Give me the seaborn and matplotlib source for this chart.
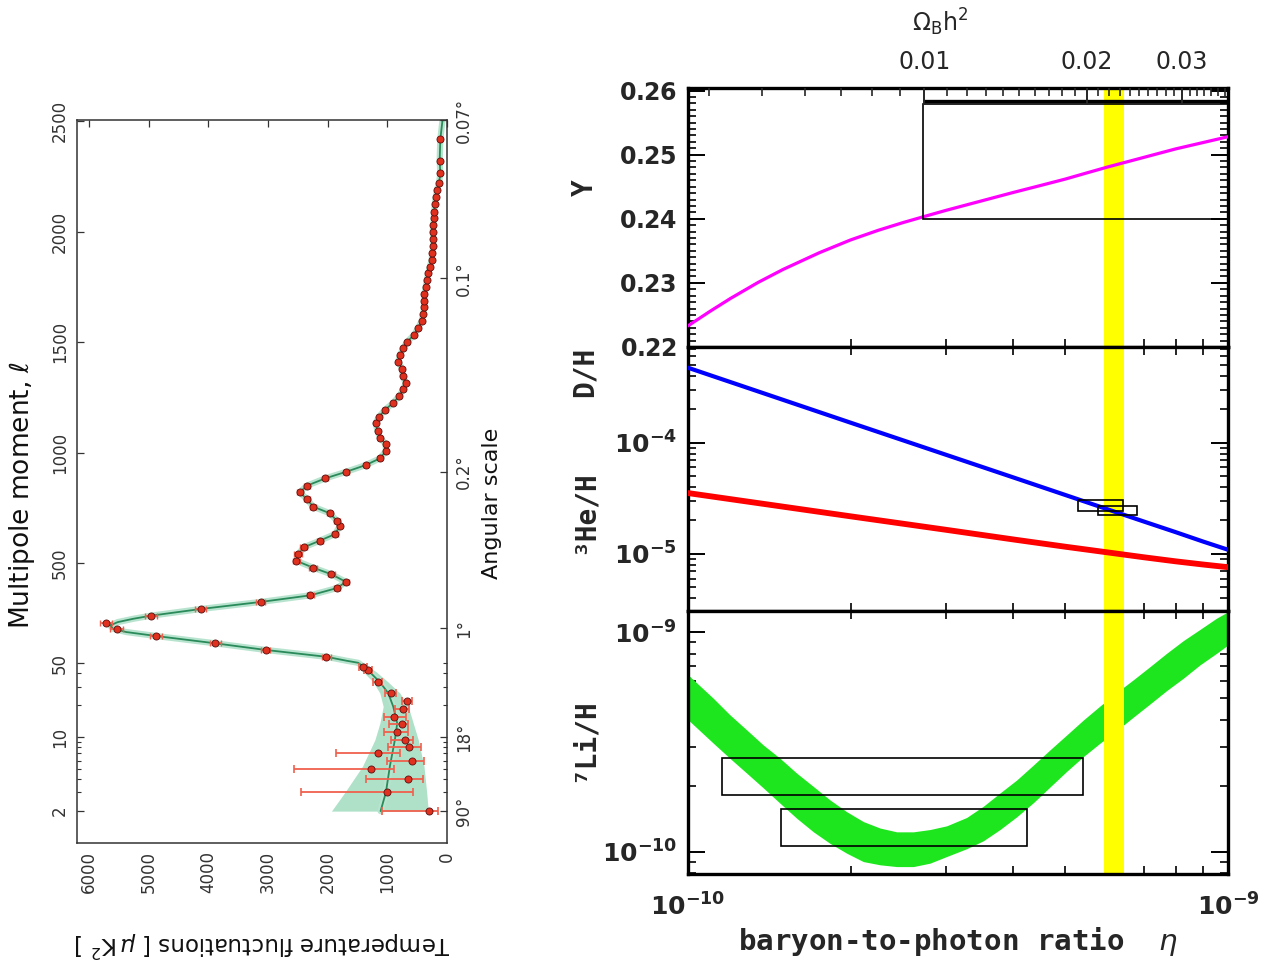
import numpy as np
import matplotlib
matplotlib.use("Agg")
import matplotlib.pyplot as plt
import seaborn as sns
from matplotlib.patches import Rectangle
from matplotlib.ticker import (FixedLocator, FixedFormatter, MultipleLocator,
                               LogLocator, NullFormatter, FuncFormatter)

# ---------------- left panel: CMB temperature power spectrum ----------------
# low multipoles (log part of the axis), with asymmetric error bars
lowl_ell = [2, 3, 4, 5, 6, 7, 8, 9.4, 11.2, 13.2, 15.6, 18.4, 21.9, 26.2, 33.3, 43, 45.5]
lowl_d = [297, 1013, 650, 1282, 594, 1165, 638, 711, 835, 756, 885, 745, 678, 946, 1165, 1322, 1406]
lowl_lo = [146, 576, 398, 890, 381, 790, 437, 566, 661, 650, 689, 638, 593, 857, 1098, 1262, 1346]
lowl_hi = [1097, 2453, 1361, 2570, 1003, 1865, 991, 941, 1053, 969, 1053, 874, 751, 1036, 1233, 1387, 1471]

# binned high multipoles
binned_ell = [78, 109, 139, 172, 202, 232, 264, 294, 326, 356,
              389, 417, 451, 481, 512, 541, 573, 603, 633, 669,
              692, 727, 757, 790, 822, 852, 885, 915, 945, 975,
              1008, 1040, 1069, 1100, 1134, 1163, 1194, 1224, 1257, 1287,
              1317, 1347, 1379, 1412, 1442, 1473, 1503, 1533, 1566, 1597,
              1628, 1658, 1688, 1718, 1748, 1781, 1812, 1842, 1872, 1905,
              1935, 1967, 2000, 2030, 2060, 2090, 2125, 2155, 2188, 2219,
              2264, 2321, 2418]
binned_d = [2022, 3040, 3886, 4877, 5539, 5717, 4962, 4133, 3125, 2290,
            1843, 1697, 1938, 2246, 2526, 2498, 2402, 2134, 1876, 1798,
            1843, 1966, 2246, 2347, 2470, 2347, 2038, 1686, 1361, 1126,
            1025, 1030, 1126, 1165, 1198, 1142, 1042, 912, 801, 734,
            694, 745, 750, 818, 790, 734, 666, 554, 482, 425,
            398, 386, 380, 380, 358, 341, 314, 286, 258, 246,
            230, 230, 240, 230, 220, 215, 205, 190, 168, 134,
            112, 123, 112]
binned_err = [75, 80, 90, 100, 105, 105, 95, 85, 70, 60,
              55, 50, 55, 60, 60, 60, 55, 50, 45, 45,
              45, 45, 45, 45, 45, 45, 40, 40, 35, 35,
              35, 30, 30, 30, 30, 30, 30, 30, 30, 30,
              28, 28, 28, 28, 28, 28, 28, 28, 28, 28,
              25, 25, 25, 25, 25, 25, 25, 25, 25, 25,
              25, 25, 25, 25, 25, 25, 25, 25, 25, 25,
              25, 25, 25]

# best-fit model curve (low part and first peak; beyond it follows the bins)
model_ell = [2, 3, 5.3, 9.4, 13.5, 19.4, 26, 33, 41, 47, 51, 60, 78, 109, 139,
             172, 190, 205, 220, 235, 250, 264] + binned_ell[7:] + [2505]
model_d = [1114, 1025, 958, 874, 835, 902, 986, 1126, 1294, 1420, 1490, 1680, 2022,
           3040, 3886, 4877, 5380, 5600, 5650, 5520, 5260, 4962] + binned_d[7:] + [75]

# cosmic-variance band at low multipoles
band_ell = [2, 3, 5.3, 9.4, 13.5, 19.4, 26, 33, 41, 47, 51, 60]
band_lo = [314, 341, 386, 482, 566, 650, 790, 986, 1182, 1330, 1420, 1620]
band_hi = [1938, 1714, 1417, 1210, 1126, 1070, 1126, 1238, 1400, 1500, 1560, 1740]

ell_ticks = [2, 10, 50, 500, 1000, 1500, 2000, 2500]
ang_ell = [2, 10, 206, 914, 1790, 2505]
ang_labels = ["90°", "18°", "1°", "0.2°", "0.1°", "0.07°"]

# ---------------- right panel: BBN abundances ----------------
eta_he4 = [1, 1.1, 1.2, 1.35, 1.5, 1.75, 2, 2.25, 2.5, 2.75, 3, 3.5, 4, 4.5,
           5, 5.5, 6, 7, 8, 9, 10]                                   # in 1e-10
helium4 = [0.2233, 0.2256, 0.2276, 0.2301, 0.2321, 0.2347, 0.2367, 0.2382,
           0.2394, 0.2404, 0.2413, 0.2428, 0.2441, 0.2452, 0.2462, 0.2472,
           0.2481, 0.2496, 0.2509, 0.2519, 0.2528]

eta_dh = [1, 2, 3, 4, 5, 6, 7, 8, 9, 10]                          # in 1e-10
deuterium = [4.75e-4, 1.52e-4, 7.83e-5, 4.89e-5, 3.39e-5, 2.51e-5, 1.95e-5,
             1.57e-5, 1.29e-5, 1.09e-5]
helium3 = [3.53e-5, 2.18e-5, 1.65e-5, 1.35e-5, 1.16e-5, 1.03e-5, 9.31e-6,
           8.57e-6, 8.02e-6, 7.59e-6]

eta_li = [1.0, 1.016, 1.114, 1.196, 1.284, 1.379, 1.481, 1.589, 1.707, 1.832,
          1.967, 2.112, 2.268, 2.435, 2.615, 2.806, 3.013, 3.281, 3.524, 3.783,
          4.062, 4.361, 4.682, 5.026, 5.397, 5.794, 6.220, 6.678, 7.171, 7.699,
          8.266, 8.874, 9.528, 10.0]                                # in 1e-10
li7_hi = [6.40e-10, 6.17e-10, 5.00e-10, 4.20e-10, 3.59e-10, 3.06e-10, 2.66e-10,
          2.28e-10, 1.98e-10, 1.72e-10, 1.52e-10, 1.37e-10, 1.28e-10, 1.23e-10,
          1.23e-10, 1.26e-10, 1.31e-10, 1.43e-10, 1.61e-10, 1.85e-10, 2.12e-10,
          2.48e-10, 2.91e-10, 3.40e-10, 3.98e-10, 4.61e-10, 5.31e-10, 6.07e-10,
          6.97e-10, 8.02e-10, 9.16e-10, 1.03e-9, 1.16e-9, 1.24e-9]
li7_lo = [3.99e-10, 3.85e-10, 3.12e-10, 2.66e-10, 2.28e-10, 1.95e-10, 1.66e-10,
          1.42e-10, 1.23e-10, 1.09e-10, 9.83e-11, 9.00e-11, 8.70e-11, 8.54e-11,
          8.54e-11, 8.85e-11, 9.49e-11, 1.03e-10, 1.12e-10, 1.26e-10, 1.44e-10,
          1.67e-10, 1.97e-10, 2.32e-10, 2.71e-10, 3.12e-10, 3.56e-10, 4.10e-10,
          4.71e-10, 5.42e-10, 6.17e-10, 7.10e-10, 8.02e-10, 8.75e-10]

# observational boxes: (eta_min, eta_max, value_min, value_max), eta in 1e-10
he4_box = (2.72, 11.0, 0.240, 0.2579)
he4_bar = (2.72, 11.0, 0.2584)
dh_boxes = [(5.27, 6.40, 2.41e-5, 3.07e-5), (5.75, 6.78, 2.22e-5, 2.72e-5)]
li_boxes = [(1.156, 5.38, 1.81e-10, 2.67e-10), (1.486, 4.24, 1.06e-10, 1.57e-10)]
cmb_eta = (5.90, 6.42)

omega_major = [0.01, 0.02, 0.03]
eta_per_omega = 2.739e-8   # eta = 2.739e-8 * Omega_B h^2

E = 1e-10

sns.set_theme(style="white")
plt.rcParams["font.family"] = ["DejaVu Sans"]
plt.rcParams["mathtext.fontset"] = "dejavusans"

fig = plt.figure(figsize=(12.71, 9.65), dpi=100)
W, H = 1271.0, 965.0


def ell_fwd(l):
    l = np.asarray(l, dtype=float)
    safe = np.clip(l, 1e-6, None)
    return np.where(l < 50, 50 + 479 * np.log10(safe / 50), l)


def ell_inv(y):
    y = np.asarray(y, dtype=float)
    return np.where(y < 50, 50 * 10 ** ((np.minimum(y, 50) - 50) / 479), y)


# ---------- left panel ----------
ax = fig.add_axes([77.3 / W, 1 - 843 / H, (447 - 77.3) / W, (843 - 120) / H])
ax.set_yscale("function", functions=(ell_fwd, ell_inv))
ax.set_xlim(6200, 0)
ax.set_ylim(1.0, 2505)

ax.fill_betweenx(band_ell, band_lo, band_hi, color="#afe0c8", lw=0, zorder=1)
sns.lineplot(x=model_d, y=model_ell, ax=ax, sort=False, estimator=None, orient="y",
             color="#b8e4cf", lw=4.5, zorder=1.5)
sns.lineplot(x=model_d, y=model_ell, ax=ax, sort=False, estimator=None, orient="y",
             color="#2a8a5a", lw=1.3, zorder=2)

lowl_d_arr = np.array(lowl_d)
ax.errorbar(lowl_d, lowl_ell,
            xerr=[lowl_d_arr - np.array(lowl_lo), np.array(lowl_hi) - lowl_d_arr],
            fmt="none", ecolor="#f0604e", elinewidth=1.3, capsize=3, capthick=1.2, zorder=3)
ax.errorbar(binned_d, binned_ell, xerr=binned_err, fmt="none", ecolor="#f0604e",
            elinewidth=1.2, capsize=2.5, capthick=1.0, zorder=3)
sns.scatterplot(x=lowl_d + binned_d, y=lowl_ell + binned_ell, ax=ax, color="#e0301e",
                edgecolor="#5a1010", linewidth=0.6, s=26, zorder=4)

ax.set_xticks([0, 1000, 2000, 3000, 4000, 5000, 6000])
ax.yaxis.set_major_locator(FixedLocator(ell_ticks))
ax.yaxis.set_major_formatter(FixedFormatter([str(t) for t in ell_ticks]))
ax.yaxis.set_minor_locator(FixedLocator([3, 4, 5, 6, 7, 8, 9, 20, 30, 40]))
ax.yaxis.set_minor_formatter(NullFormatter())
ax.tick_params(axis="both", which="major", direction="in", length=5, width=0.9,
               colors="#333333", labelsize=12, top=True)
ax.tick_params(axis="y", which="minor", direction="in", length=3, width=0.8,
               colors="#333333")
ax.tick_params(axis="x", labelrotation=90, pad=6)
ax.tick_params(axis="y", labelrotation=90, pad=6)
for lab in ax.get_yticklabels():
    lab.set_va("center")
for s in ax.spines.values():
    s.set_color("#333333")
    s.set_linewidth(1.1)
ax.set_xlabel("")
ax.set_ylabel("")

ax2 = ax.twinx()
ax2.set_yscale("function", functions=(ell_fwd, ell_inv))
ax2.set_ylim(1.0, 2505)
ax2.yaxis.set_major_locator(FixedLocator(ang_ell))
ax2.yaxis.set_major_formatter(FixedFormatter(ang_labels))
ax2.yaxis.set_minor_locator(FixedLocator([3, 4, 5, 6, 7, 8, 9, 20, 30, 40, 50]))
ax2.yaxis.set_minor_formatter(NullFormatter())
ax2.tick_params(axis="y", which="major", direction="in", length=5, width=0.9,
                colors="#333333", labelsize=12, labelrotation=90, pad=6)
ax2.tick_params(axis="y", which="minor", direction="in", length=3, width=0.8,
                colors="#333333")
for lab in ax2.get_yticklabels():
    lab.set_va("center")
for s in ax2.spines.values():
    s.set_visible(False)

fig.text(22 / W, 1 - 495 / H, r"Multipole moment, $\ell$", rotation=90, fontsize=19,
         ha="center", va="center", color="#111111")
fig.text(492 / W, 1 - 503 / H, "Angular scale", rotation=90, fontsize=16,
         ha="center", va="center", color="#111111")
fig.text(262 / W, 1 - 944 / H, r"Temperature fluctuations [ $\mu\,$K$^2$ ]", rotation=180,
         fontsize=16.5, ha="center", va="center", color="#111111")

# ---------- right panel ----------
x0, w = 688 / W, 540 / W
axY = fig.add_axes([x0, 1 - 347 / H, w, 259 / H])
axD = fig.add_axes([x0, 1 - 611 / H, w, 264 / H])
axL = fig.add_axes([x0, 1 - 874 / H, w, 263 / H])

eta_he4_a = np.array(eta_he4) * E
eta_dh_a = np.array(eta_dh) * E
eta_li_a = np.array(eta_li) * E

for a in (axY, axD, axL):
    a.set_xscale("log")
    a.set_xlim(1e-10, 1e-9)
    a.axvspan(cmb_eta[0] * E, cmb_eta[1] * E, color="#ffff00", lw=0, zorder=2)
    a.xaxis.set_major_locator(FixedLocator([1e-10, 1e-9]))
    a.xaxis.set_minor_locator(LogLocator(base=10, subs=np.arange(2, 10), numticks=20))
    a.xaxis.set_minor_formatter(NullFormatter())
    a.tick_params(which="major", direction="in", length=12, width=1.4, color="black",
                  top=True, right=True, bottom=True, left=True)
    a.tick_params(which="minor", direction="in", length=6, width=1.2, color="black",
                  top=True, right=True, bottom=True, left=True)
    for s in a.spines.values():
        s.set_color("black")
        s.set_linewidth(2.4)
    a.set_xlabel("")
    a.set_ylabel("")

# helium-4
sns.lineplot(x=eta_he4_a, y=helium4, ax=axY, color="#ff00ff", lw=2.3, zorder=3)
bx = he4_box
axY.add_patch(Rectangle((bx[0] * E, bx[2]), (bx[1] - bx[0]) * E, bx[3] - bx[2],
                        fill=False, ec="black", lw=1.2, zorder=4))
axY.hlines(he4_bar[2], he4_bar[0] * E, he4_bar[1] * E, color="black", lw=2.4, zorder=4)
axY.set_ylim(0.22, 0.2604)
axY.yaxis.set_major_locator(MultipleLocator(0.01))
axY.yaxis.set_minor_locator(MultipleLocator(0.001))
axY.yaxis.set_major_formatter(FuncFormatter(lambda v, p: r"$\mathbf{%.2f}$" % v))
axY.tick_params(top=False, which="both")
axY.tick_params(labelbottom=False, labelsize=17, pad=8)

axO = axY.twiny()
axO.set_xscale("log")
axO.set_xlim(1e-10, 1e-9)
axO.xaxis.set_major_locator(FixedLocator([o * eta_per_omega for o in omega_major]))
axO.xaxis.set_major_formatter(FixedFormatter(["%.2f" % o for o in omega_major]))
omega_minor = [m / 1000 for m in range(4, 37) if m % 10 != 0]
axO.xaxis.set_minor_locator(FixedLocator([o * eta_per_omega for o in omega_minor]))
axO.xaxis.set_minor_formatter(NullFormatter())
axO.tick_params(which="major", direction="in", length=12, width=1.4, labelsize=17, pad=10)
axO.tick_params(which="minor", direction="in", length=6, width=1.2)
for s in axO.spines.values():
    s.set_visible(False)
fig.text(940 / W, 1 - 22 / H, r"$\Omega_{\rm B}\mathrm{h}^2$", fontsize=17, ha="center",
         va="center")

# deuterium and helium-3
sns.lineplot(x=eta_dh_a, y=helium3, ax=axD, color="#ff0000", lw=4.2, zorder=3)
sns.lineplot(x=eta_dh_a, y=deuterium, ax=axD, color="#0000ff", lw=3.0, zorder=3)
for bx in dh_boxes:
    axD.add_patch(Rectangle((bx[0] * E, bx[2]), (bx[1] - bx[0]) * E, bx[3] - bx[2],
                            fill=False, ec="black", lw=1.2, zorder=4))
axD.set_yscale("log")
axD.set_ylim(3.06e-6, 7.3e-4)
axD.yaxis.set_major_locator(FixedLocator([1e-5, 1e-4]))
axD.yaxis.set_major_formatter(FixedFormatter([r"$\mathbf{10^{-5}}$", r"$\mathbf{10^{-4}}$"]))
axD.yaxis.set_minor_locator(LogLocator(base=10, subs=np.arange(2, 10), numticks=20))
axD.yaxis.set_minor_formatter(NullFormatter())
axD.tick_params(labelbottom=False, labelsize=18, pad=8)

# lithium-7
axL.fill_between(eta_li_a, li7_lo, li7_hi, color="#1ee61e", lw=0, zorder=1)
for bx in li_boxes:
    axL.add_patch(Rectangle((bx[0] * E, bx[2]), (bx[1] - bx[0]) * E, bx[3] - bx[2],
                            fill=False, ec="black", lw=1.2, zorder=4))
axL.set_yscale("log")
axL.set_ylim(7.9e-11, 1.25e-9)
axL.yaxis.set_major_locator(FixedLocator([1e-10, 1e-9]))
axL.yaxis.set_major_formatter(FixedFormatter([r"$\mathbf{10^{-10}}$", r"$\mathbf{10^{-9}}$"]))
axL.yaxis.set_minor_locator(LogLocator(base=10, subs=np.arange(2, 10), numticks=20))
axL.yaxis.set_minor_formatter(NullFormatter())
axL.xaxis.set_major_formatter(FixedFormatter([r"$\mathbf{10^{-10}}$", r"$\mathbf{10^{-9}}$"]))
axL.tick_params(labelsize=18, pad=8)
axL.tick_params(axis="x", pad=14)

mono = ["DejaVu Sans Mono", "DejaVu Sans"]
for txt, yy in [("Y", 188), ("D/H", 372), ("³He/H", 512), ("⁷Li/H", 740)]:
    fig.text(585 / W, 1 - yy / H, txt, rotation=90, fontsize=20, fontweight="bold",
             family=mono, ha="center", va="center")
fig.text(958 / W, 1 - 941 / H, r"baryon-to-photon ratio  $\eta$", fontsize=21,
         fontweight="bold", family=mono, ha="center", va="center")

fig.savefig("out.png", dpi=100)
